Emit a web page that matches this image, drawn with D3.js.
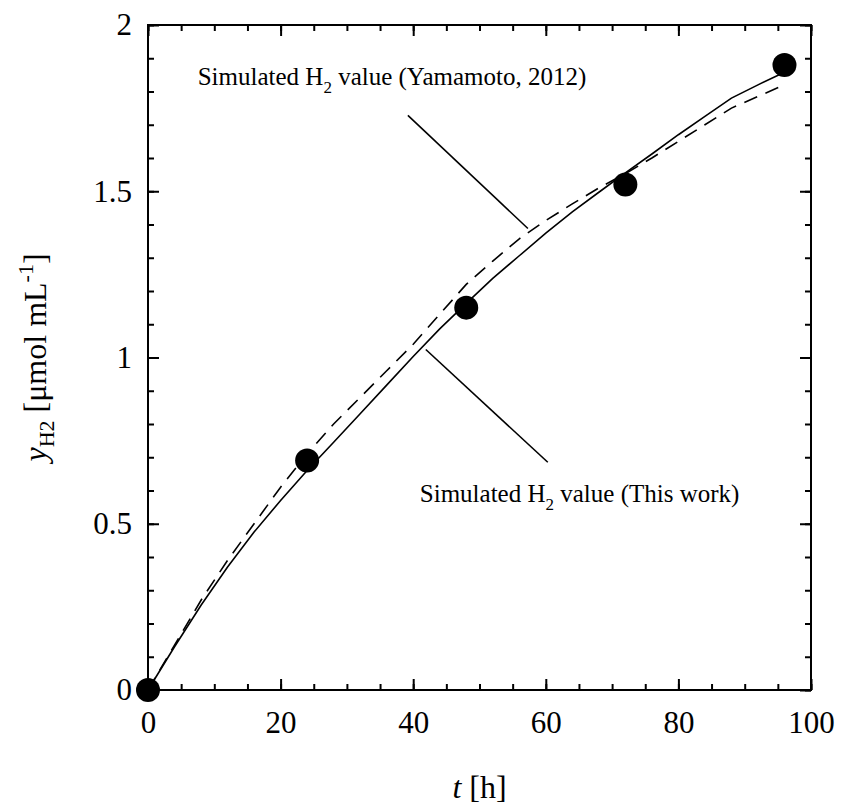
<!DOCTYPE html>
<html>
<head>
<meta charset="utf-8">
<script src="https://cdn.jsdelivr.net/npm/d3@7"></script>
<style>
  body { margin: 0; background: #fff; }
  svg { display: block; }
  text { font-family: "Liberation Serif", "Times New Roman", serif; fill: #000; }
</style>
</head>
<body>
<svg width="843" height="810"></svg>
<script>
// measured H2 (dots)
const tMeasured = [0, 24, 48, 72, 96];
const yMeasured = [0, 0.69, 1.15, 1.52, 1.88];

// simulated curves
const tCurve    = [0, 4, 8, 12, 16, 20, 24, 28, 32, 36, 40, 44, 48, 52, 56, 60, 64, 68, 72, 76, 80, 84, 88, 92, 96];
const yThisWork = [0, 0.13, 0.255, 0.37, 0.475, 0.57, 0.66, 0.745, 0.831, 0.917, 1.003, 1.086, 1.163, 1.238, 1.306, 1.374, 1.438, 1.497, 1.555, 1.612, 1.67, 1.725, 1.78, 1.82, 1.858];
const yYamamoto = [0, 0.135, 0.27, 0.39, 0.5, 0.61, 0.71, 0.8, 0.88, 0.96, 1.04, 1.13, 1.22, 1.29, 1.357, 1.412, 1.462, 1.51, 1.553, 1.6, 1.65, 1.7, 1.75, 1.785, 1.82];

const xMajor = [0, 20, 40, 60, 80, 100];
const yMajor = [0, 0.5, 1, 1.5, 2];
const xMinor = d3.range(0, 101, 5);
const yMinor = d3.range(0, 21, 1).map(d => d / 10);

const svg = d3.select("svg");

const x = d3.scaleLinear().domain([0, 100]).range([148, 811]);
const y = d3.scaleLinear().domain([0, 2]).range([690, 25]);

const fmt = d => String(d);

// frame
svg.append("rect")
  .attr("x", x(0)).attr("y", y(2))
  .attr("width", x(100) - x(0)).attr("height", y(0) - y(2))
  .attr("fill", "none").attr("stroke", "#000").attr("stroke-width", 2);

function ticks(axis, transform) {
  const g = svg.append("g").attr("transform", transform).call(axis);
  g.select(".domain").remove();
  g.selectAll(".tick line").attr("stroke", "#000").attr("stroke-width", 2);
  g.selectAll(".tick text").attr("font-size", 31).attr("fill", "#000")
    .attr("font-family", "Liberation Serif, Times New Roman, serif");
  return g;
}

// bottom / top
ticks(d3.axisBottom(x).tickValues(xMajor).tickFormat(fmt).tickSizeInner(-11).tickSizeOuter(0).tickPadding(21), `translate(0,${y(0)})`);
ticks(d3.axisBottom(x).tickValues(xMinor).tickFormat("").tickSizeInner(-6).tickSizeOuter(0), `translate(0,${y(0)})`);
ticks(d3.axisTop(x).tickValues(xMajor).tickFormat("").tickSizeInner(-11).tickSizeOuter(0), `translate(0,${y(2)})`);
ticks(d3.axisTop(x).tickValues(xMinor).tickFormat("").tickSizeInner(-6).tickSizeOuter(0), `translate(0,${y(2)})`);

// left / right
ticks(d3.axisLeft(y).tickValues(yMajor).tickFormat(fmt).tickSizeInner(-11).tickSizeOuter(0).tickPadding(16), `translate(${x(0)},0)`);
ticks(d3.axisLeft(y).tickValues(yMinor).tickFormat("").tickSizeInner(-6).tickSizeOuter(0), `translate(${x(0)},0)`);
ticks(d3.axisRight(y).tickValues(yMajor).tickFormat("").tickSizeInner(-11).tickSizeOuter(0), `translate(${x(100)},0)`);
ticks(d3.axisRight(y).tickValues(yMinor).tickFormat("").tickSizeInner(-6).tickSizeOuter(0), `translate(${x(100)},0)`);

// curves
const line = d3.line()
  .x(d => x(d[0]))
  .y(d => y(d[1]));

svg.append("path")
  .datum(tCurve.map((t, i) => [t, yYamamoto[i]]))
  .attr("d", line)
  .attr("fill", "none").attr("stroke", "#000").attr("stroke-width", 1.6)
  .attr("stroke-dasharray", "14,9");

svg.append("path")
  .datum(tCurve.map((t, i) => [t, yThisWork[i]]))
  .attr("d", line)
  .attr("fill", "none").attr("stroke", "#000").attr("stroke-width", 1.6);

// measured dots
svg.selectAll("circle.obs")
  .data(tMeasured.map((t, i) => [t, yMeasured[i]]))
  .enter()
  .append("circle")
  .attr("class", "obs")
  .attr("cx", d => x(d[0]))
  .attr("cy", d => y(d[1]))
  .attr("r", 12)
  .attr("fill", "#000");

// annotations (positions in data units)
const notes = [
  {label: "(Yamamoto, 2012)", at: [7.5, 1.819], from: [39.2, 1.728], to: [57.3, 1.388]},
  {label: "(This work)",      at: [41.0, 0.564], from: [60.3, 0.685], to: [41.9, 1.024]}
];

notes.forEach(function(n) {
  svg.append("line")
    .attr("x1", x(n.from[0])).attr("y1", y(n.from[1]))
    .attr("x2", x(n.to[0])).attr("y2", y(n.to[1]))
    .attr("stroke", "#000").attr("stroke-width", 1.6);

  const t = svg.append("text")
    .attr("x", x(n.at[0])).attr("y", y(n.at[1]))
    .attr("font-size", 25);
  t.append("tspan").text("Simulated H");
  t.append("tspan").attr("font-size", 17).attr("dy", 8).text("2");
  t.append("tspan").attr("dy", -8).text(" value " + n.label);
});

// axis titles
const xt = svg.append("text")
  .attr("x", (x(0) + x(100)) / 2).attr("y", 798)
  .attr("text-anchor", "middle").attr("font-size", 32);
xt.append("tspan").attr("font-style", "italic").text("t");
xt.append("tspan").text(" [h]");

const yt = svg.append("text")
  .attr("transform", `translate(46,${(y(0) + y(2)) / 2}) rotate(-90)`)
  .attr("text-anchor", "middle").attr("font-size", 32);
yt.append("tspan").attr("font-style", "italic").text("y");
yt.append("tspan").attr("font-size", 22).attr("dy", 8).text("H2");
yt.append("tspan").attr("dy", -8).text(" [μmol mL");
yt.append("tspan").attr("font-size", 22).attr("dy", -13).text("-1");
yt.append("tspan").attr("dy", 13).text("]");
</script>
</body>
</html>
